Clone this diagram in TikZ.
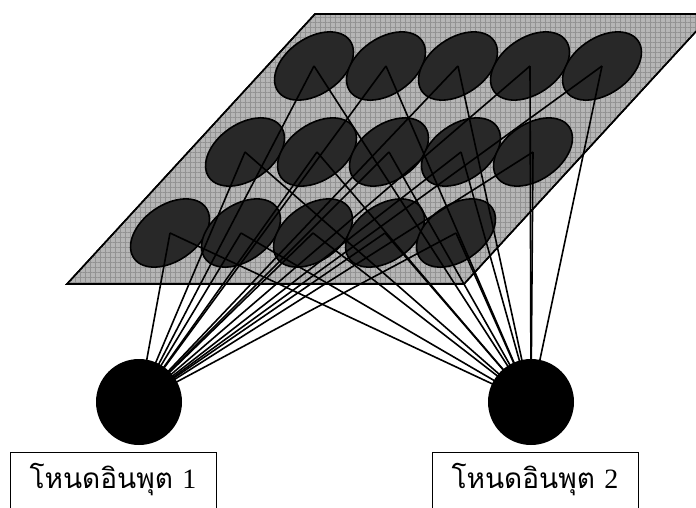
\documentclass[tikz,border=0pt]{standalone}
\usepackage{fontspec}
\newfontfamily\thaifont[Script=Thai]{Loma}
\newfontfamily\digitfont{Liberation Serif}
\usetikzlibrary{shapes.geometric,patterns.meta}
\definecolor{planegray}{HTML}{B6B6B6}
\definecolor{planegrid}{HTML}{939393}
\definecolor{cellgray}{HTML}{282828}
\pgfdeclarelayer{fg}
\pgfsetlayers{main,fg}
\tikzset{
  planeshape/.style={draw=black, line width=1.6pt, fill=planegray, line join=miter},
  cellnode/.style={ellipse, draw=black, line width=1.6pt, fill=cellgray,
    minimum width=88pt, minimum height=56pt, inner sep=0pt, rotate=35},
  inputnode/.style={circle, fill=black, minimum size=86pt, inner sep=0pt},
  link/.style={line width=1.6pt, black},
  labelbox/.style={draw=black, line width=1pt, fill=white, minimum width=206pt,
    minimum height=56pt, inner sep=0pt, font=\thaifont\fontsize{28}{30}\selectfont}
}
\begin{document}
\begin{tikzpicture}[x=1pt,y=-1pt]
\useasboundingbox (0,0) rectangle (696,507);
\clip (0,0) rectangle (696,507);
\begin{pgfonlayer}{fg}
  \node[inputnode] (in1) at (139,402) {};
  \node[inputnode] (in2) at (531,402) {};
\end{pgfonlayer}
% plane
\path[planeshape] (67,284) -- (464,284) -- (712,14) -- (315,14) -- cycle;
\fill[pattern={Hatch[angle=0,distance=5pt,line width=0.5pt]}, pattern color=planegrid]
  (67,284) -- (464,284) -- (712,14) -- (315,14) -- cycle;
\draw[line width=1.6pt] (67,284) -- (464,284) -- (712,14) -- (315,14) -- cycle;
% cells
\node[cellnode] (t1) at (314,66) {};
\node[cellnode] (t2) at (386,66) {};
\node[cellnode] (t3) at (458,66) {};
\node[cellnode] (t4) at (530,66) {};
\node[cellnode] (t5) at (602,66) {};
\node[cellnode] (m1) at (245,152) {};
\node[cellnode] (m2) at (317,152) {};
\node[cellnode] (m3) at (389,152) {};
\node[cellnode] (m4) at (461,152) {};
\node[cellnode] (m5) at (533,152) {};
\node[cellnode] (b1) at (170,233) {};
\node[cellnode] (b2) at (241,233) {};
\node[cellnode] (b3) at (313,233) {};
\node[cellnode] (b4) at (385,233) {};
\node[cellnode] (b5) at (456,233) {};
% links
\foreach \c in {t1,t2,t3,t4,t5,m1,m2,m3,m4,m5,b1,b2,b3,b4,b5} {
  \draw[link] (in1.center) -- (\c.center);
  \draw[link] (in2.center) -- (\c.center);
}
% labels
\node[labelbox] (lab1) at (113,480) {โหนดอินพุต {\digitfont 1}};
\node[labelbox] (lab2) at (535,480) {โหนดอินพุต {\digitfont 2}};
\end{tikzpicture}
\end{document}
